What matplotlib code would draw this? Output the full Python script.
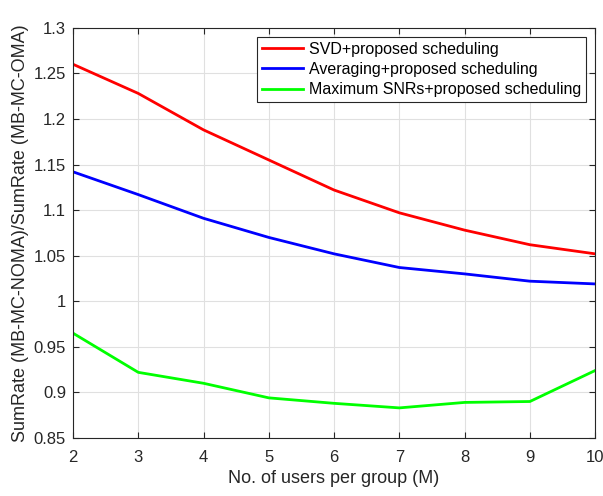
import matplotlib
matplotlib.use("Agg")
import matplotlib.pyplot as plt

M = [2, 3, 4, 5, 6, 7, 8, 9, 10]
svd = [1.260, 1.228, 1.188, 1.155, 1.122, 1.097, 1.078, 1.062, 1.052]
averaging = [1.142, 1.117, 1.091, 1.070, 1.052, 1.037, 1.030, 1.022, 1.019]
max_snr = [0.965, 0.922, 0.910, 0.894, 0.888, 0.883, 0.889, 0.890, 0.924]

plt.rcParams["font.family"] = ["Liberation Sans", "DejaVu Sans"]

fig = plt.figure(figsize=(6.03, 4.96), dpi=100)
ax = fig.add_axes([0.121, 0.117, 0.866, 0.827])

ax.plot(M, svd, color="#ff0000", lw=2, label="SVD+proposed scheduling")
ax.plot(M, averaging, color="#0000ff", lw=2, label="Averaging+proposed scheduling")
ax.plot(M, max_snr, color="#00ff00", lw=2, label="Maximum SNRs+proposed scheduling")

ax.set_xlim(2, 10)
ax.set_ylim(0.85, 1.3)
ax.set_xticks(M)
ax.set_yticks([0.85, 0.9, 0.95, 1.0, 1.05, 1.1, 1.15, 1.2, 1.25, 1.3])
ax.set_yticklabels(["0.85", "0.9", "0.95", "1", "1.05", "1.1", "1.15", "1.2", "1.25", "1.3"])
ax.grid(True, color="#e0e0e0", lw=0.8)
ax.set_axisbelow(True)
ax.tick_params(direction="in", top=True, right=True, labelsize=12, colors="#262626", length=4, pad=5)
ax.tick_params(axis="x", pad=9)
for s in ax.spines.values():
    s.set_color("#262626")
    s.set_linewidth(0.8)

ax.set_xlabel("No. of users per group (M)", fontsize=13, color="#262626", labelpad=3)
ax.set_ylabel("SumRate (MB-MC-NOMA)/SumRate (MB-MC-OMA)", fontsize=13, color="#262626", labelpad=3)

leg = ax.legend(loc="upper right", fontsize=11.5, fancybox=False, framealpha=1,
                edgecolor="#262626", borderpad=0.3, labelspacing=0.33, handlelength=2.6,
                handletextpad=0.35, borderaxespad=0, bbox_to_anchor=(0.982, 0.978))
leg.get_frame().set_linewidth(0.8)

fig.savefig("out.png", dpi=100)
